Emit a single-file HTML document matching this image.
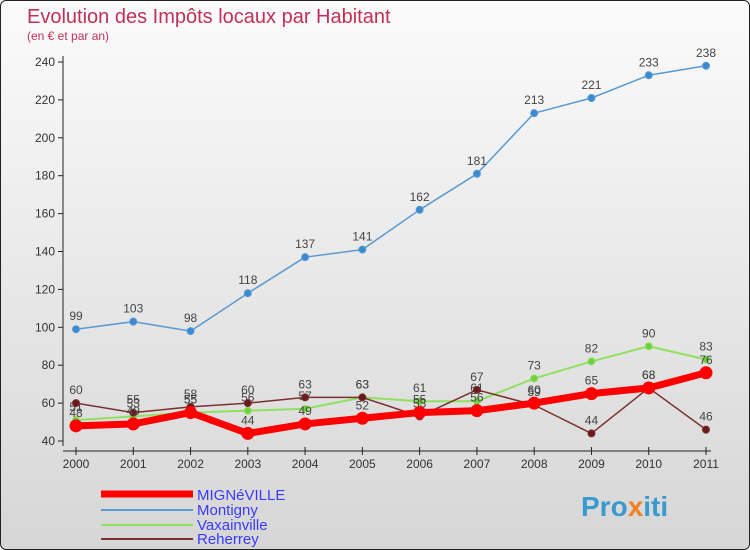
<!DOCTYPE html>
<html><head><meta charset="utf-8"><style>
body{margin:0;}
#c{width:748px;height:548px;border:1px solid #222;border-radius:6px;background:linear-gradient(#fbfbfb,#d6d6d6);position:relative;overflow:hidden;font-family:"Liberation Sans",sans-serif;}
</style></head><body>
<div id="c">
<svg width="748" height="548" id="svg">
<text x="26" y="22" font-size="20" fill="#c0305a">Evolution des Impôts locaux par Habitant</text>
<text x="26" y="39" font-size="12" fill="#c0305a">(en € et par an)</text>
<g id="axes"></g><g id="series"></g>
<g>
<line x1="100" y1="493" x2="192" y2="493" stroke="#ff0000" stroke-width="7"/><text x="196" y="499" font-size="15" fill="#3a3aff">MIGNéVILLE</text>
<line x1="100" y1="509" x2="192" y2="509" stroke="#5a9ad0" stroke-width="2"/><text x="196" y="514" font-size="15" fill="#3a3aff">Montigny</text>
<line x1="100" y1="524" x2="192" y2="524" stroke="#90e060" stroke-width="2"/><text x="196" y="529" font-size="15" fill="#3a3aff">Vaxainville</text>
<line x1="100" y1="538" x2="192" y2="538" stroke="#7a3030" stroke-width="2"/><text x="196" y="543" font-size="15" fill="#3a3aff">Reherrey</text>
</g>
<text x="580" y="515" font-size="28" font-weight="bold" fill="#3a9ad0">Pro<tspan fill="#f08020">x</tspan>iti</text>
</svg></div>
<script>
const years=[2000,2001,2002,2003,2004,2005,2006,2007,2008,2009,2010,2011];
const yTicks=[40,60,80,100,120,140,160,180,200,220,240];
const mign=[48,49,55,44,49,52,55,56,60,65,68,76];
const mont=[99,103,98,118,137,141,162,181,213,221,233,238];
const vaxa=[51,53,55,56,57,63,61,61,73,82,90,83];
const reh=[60,55,58,60,63,63,53,67,59,44,68,46];
const NS="http://www.w3.org/2000/svg";
const xS=i=>75+i*(630/11), yS=v=>440-(v-40)*(379/200);
function mk(t,a,p){const e=document.createElementNS(NS,t);for(const k in a)e.setAttribute(k,a[k]);p.appendChild(e);return e;}
const ax=document.getElementById('axes'), se=document.getElementById('series');
mk('line',{x1:62,y1:55,x2:62,y2:445,stroke:'#222'},ax);
mk('line',{x1:62,y1:450,x2:710,y2:450,stroke:'#222'},ax);
yTicks.forEach(v=>{const l=mk('line',{x1:57,y1:yS(v),x2:62,y2:yS(v),stroke:'#222'},ax);

const t=mk('text',{x:54,y:yS(v)+4,'font-size':12,fill:'#333','text-anchor':'end'},ax);t.textContent=v;
});
years.forEach((y,i)=>{mk('line',{x1:xS(i),y1:446,x2:xS(i),y2:454,stroke:'#222'},ax);
const t=mk('text',{x:xS(i),y:467,'font-size':12,fill:'#333','text-anchor':'middle'},ax);t.textContent=y;
});
function draw(vals,name,col,w,r,dot){const g=mk('g',{},se);

const p=mk('polyline',{points:vals.map((v,i)=>xS(i)+','+yS(v)).join(' '),fill:'none',stroke:col,'stroke-width':w,'stroke-linejoin':'round'},g);

vals.forEach((v,i)=>{const c=mk('circle',{cx:xS(i),cy:yS(v),r:r,fill:dot,stroke:col,'stroke-width':1},g);

const t=mk('text',{x:xS(i),y:yS(v)-9,'font-size':12,fill:'#444','text-anchor':'middle'},g);t.textContent=v;
});}
draw(vaxa,'vaxainville','#90e060',2,3.5,'#70d040');
draw(reh,'reherrey','#7a3030',1.5,3.5,'#6a1a1a');
draw(mign,'mignéville','#ff0000',7,6,'#ff0000');
draw(mont,'montigny','#5a9ad0',1.5,3.5,'#3a8ad0');
</script>
</body></html>
